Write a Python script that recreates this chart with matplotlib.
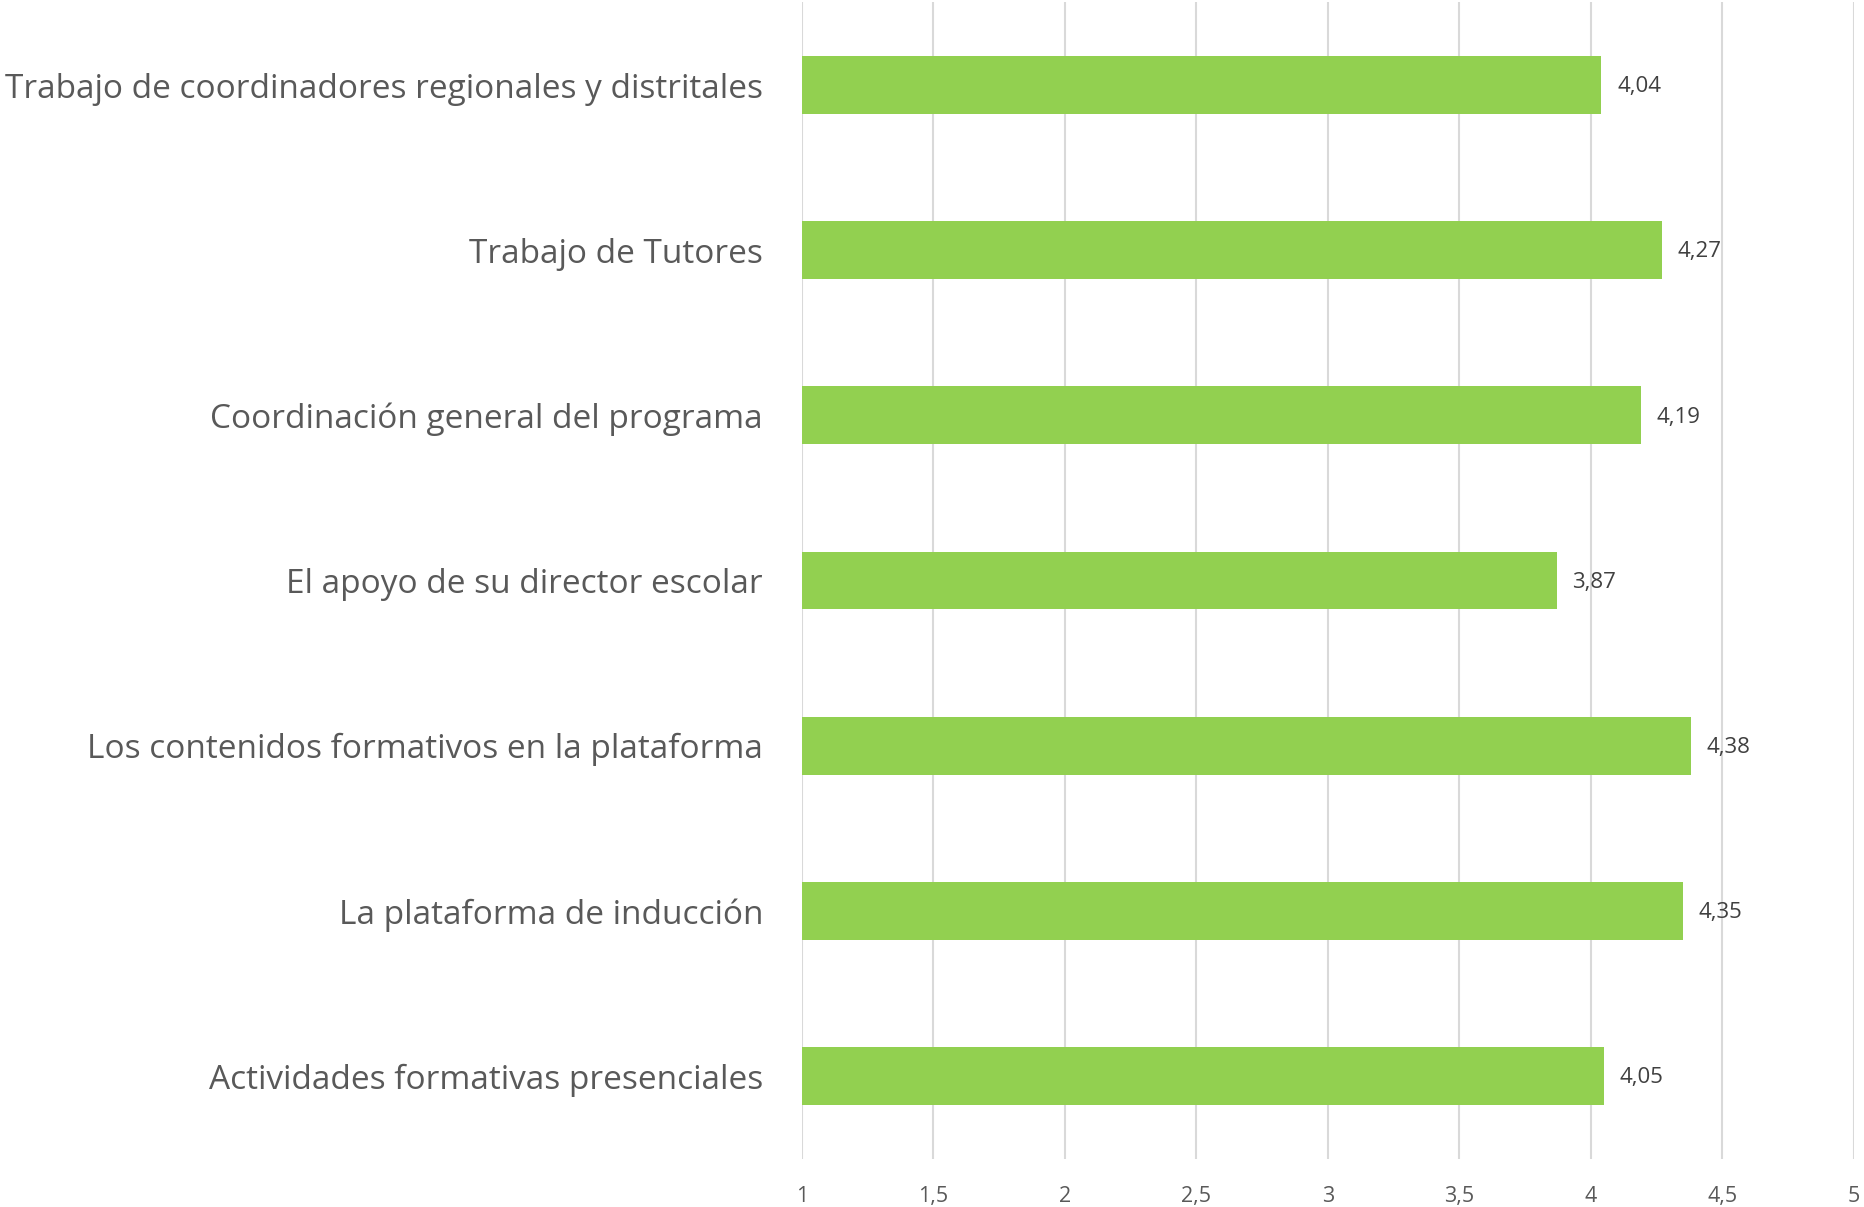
import matplotlib.pyplot as plt
import numpy as np

categorias = [
    "Trabajo de coordinadores regionales y distritales",
    "Trabajo de Tutores",
    "Coordinación general del programa",
    "El apoyo de su director escolar",
    "Los contenidos formativos en la plataforma",
    "La plataforma de inducción",
    "Actividades formativas presenciales",
]
valores = [4.04, 4.27, 4.19, 3.87, 4.38, 4.35, 4.05]
ticks = [1, 1.5, 2, 2.5, 3, 3.5, 4, 4.5, 5]
tick_labels = ["1", "1,5", "2", "2,5", "3", "3,5", "4", "4,5", "5"]

plt.rcParams['font.family'] = ['Open Sans', 'DejaVu Sans']

fig = plt.figure(figsize=(18.65, 12.07), dpi=100)
ax = fig.add_axes([0.430, 0.040, 0.564, 0.958])

y = np.arange(len(categorias))[::-1]
ax.barh(y, np.array(valores) - 1, left=1, height=0.35, color='#92D050', zorder=3)

for yi, v in zip(y, valores):
    ax.text(v + 0.06, yi - 0.01, f"{v:.2f}".replace('.', ','), va='center', ha='left',
            fontsize=16, color='#404040')

ax.set_xlim(1, 5)
ax.set_ylim(-0.5, len(categorias) - 0.5)
ax.set_xticks(ticks)
ax.set_xticklabels(tick_labels, fontsize=15.5, color='#595959')
ax.set_yticks(y)
ax.set_yticklabels(categorias, fontsize=24, color='#595959')
ax.tick_params(axis='y', length=0, pad=28)
ax.tick_params(axis='x', length=0, pad=20)
ax.grid(axis='x', color='#D9D9D9', linewidth=1.5, zorder=0)
for s in ax.spines.values():
    s.set_visible(False)

plt.savefig('out.png', dpi=100)
